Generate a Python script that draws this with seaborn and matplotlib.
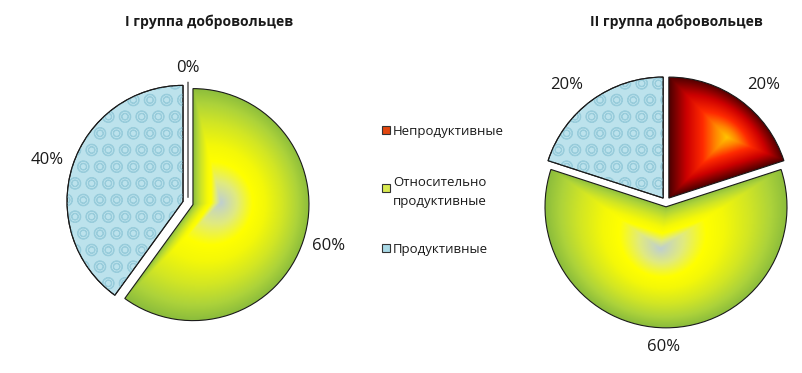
import numpy as np
import matplotlib
matplotlib.use('Agg')
import matplotlib.pyplot as plt
import seaborn as sns
from matplotlib.colors import LinearSegmentedColormap
from matplotlib.patches import Rectangle, Wedge

# data
categories = ['Непродуктивные', 'Относительно\nпродуктивные', 'Продуктивные']
group1 = [0, 60, 40]
group2 = [20, 60, 20]
titles = ['I группа добровольцев', 'II группа добровольцев']

sns.set_theme(style='white')
plt.rcParams['font.family'] = ['Open Sans', 'DejaVu Sans']
plt.rcParams['hatch.linewidth'] = 0.7

W, H = 803, 373
fig = plt.figure(figsize=(W / 100, H / 100), dpi=100)
HALF = 1.4


def px_axes(cx, cy, r):
    # axes where one data unit = r pixels, centred on (cx, cy) counted from top-left
    s = HALF * r
    return fig.add_axes([(cx - s) / W, 1 - (cy + s) / H, 2 * s / W, 2 * s / H])


greens = LinearSegmentedColormap.from_list(
    'g', [(0, '#bfcfcf'), (0.18, '#e0ea80'), (0.36, '#ffff00'), (0.5, '#f4f808'),
          (0.7, '#d2e624'), (0.87, '#add33a'), (1, '#8cbd3c')])
reds = LinearSegmentedColormap.from_list(
    'r', [(0, '#ffc400'), (0.2, '#ff8400'), (0.42, '#ff2a00'), (0.7, '#cc0000'), (1, '#4e0000')])

grid = np.linspace(-HALF, HALF, 700)
X, Y = np.meshgrid(grid, grid)


def gauge(w, c):
    # path-gradient style "distance": 0 at c, 1 on the wedge outline
    o = np.array(w.center)
    R = w.r
    vx, vy = X - c[0], Y - c[1]
    ax_, ay_ = c[0] - o[0], c[1] - o[1]
    vv = vx ** 2 + vy ** 2 + 1e-12
    av = ax_ * vx + ay_ * vy
    u = (-av + np.sqrt(np.maximum(av ** 2 - vv * (ax_ ** 2 + ay_ ** 2 - R ** 2), 0))) / vv
    s = 1 / u
    t1, t2 = np.radians(w.theta1), np.radians(w.theta2)
    span = (w.theta2 - w.theta1) % 360
    # outward normals of the two straight edges
    n1 = np.array([np.sin(t1), -np.cos(t1)])
    n2 = np.array([-np.sin(t2), np.cos(t2)])
    if span <= 180:
        for n in (n1, n2):
            s = np.maximum(s, (n[0] * vx + n[1] * vy) / (n @ (o - c)))
    else:
        # removed sector K = points outside both edges
        enter, exit_ = [], []
        for n in (-n1, -n2):
            a = n @ (np.array(c) - o)
            b = n[0] * vx + n[1] * vy
            with np.errstate(divide='ignore', invalid='ignore'):
                lam = -a / b
            if a <= 0:
                enter.append(np.zeros_like(b))
                exit_.append(np.where(b > 0, lam, np.inf))
            else:
                enter.append(np.where(b < 0, lam, np.inf))
                exit_.append(np.full_like(b, np.inf))
        le = np.maximum(enter[0], enter[1])
        lx = np.minimum(exit_[0], exit_[1])
        lk = np.where(le <= lx, le, np.inf)
        s = np.maximum(s, 1 / lk)
    return np.clip(s, 0, 1)


def fill_gradient(ax, wedge, cmap, c):
    im = ax.imshow(gauge(wedge, c), cmap=cmap, vmin=0, vmax=1,
                   extent=(-HALF, HALF, -HALF, HALF), origin='lower',
                   zorder=0.5, interpolation='bilinear')
    im.set_clip_path(wedge)
    wedge.set_facecolor('none')


def water(ax, wedge):
    wedge.set_facecolor('#bce2ec')
    tex = Wedge(wedge.center, wedge.r, wedge.theta1, wedge.theta2,
                facecolor='none', edgecolor='#98ccdb', lw=0, hatch='oO', zorder=1.2)
    ax.add_patch(tex)
    ax.add_patch(Wedge(wedge.center, wedge.r, wedge.theta1, wedge.theta2,
                       facecolor='none', edgecolor='#1a1a1a', lw=0.8, zorder=1.4))


def draw_pie(ax, vals, expl, red_c, green_c, label_xy):
    wedges, _, autotexts = ax.pie(
        vals, explode=[expl] * len(vals), startangle=90, counterclock=False,
        autopct='%d%%', pctdistance=1.2, colors=['#d02000', '#c8e22a', '#bce2ec'],
        wedgeprops=dict(edgecolor='#1a1a1a', linewidth=0.8),
        textprops=dict(fontsize=12, color='#1a1a1a'))
    for w in wedges:
        w.set_zorder(1)
    for t, xy in zip(autotexts, label_xy):
        t.set_position(xy)
    if vals[0] > 0:
        fill_gradient(ax, wedges[0], reds, red_c)
    fill_gradient(ax, wedges[1], greens, green_c)
    water(ax, wedges[2])
    ax.set_xlim(-HALF, HALF)
    ax.set_ylim(-HALF, HALF)
    ax.set_aspect('equal')
    ax.axis('off')


ax1 = px_axes(188, 203, 116)
draw_pie(ax1, group1, 0.045, (0, 0), (0.28, 0.0),
         [(0.0, 1.16), (1.21, -0.37), (-1.21, 0.37)])

ax2 = px_axes(666, 202, 121)
draw_pie(ax2, group2, 0.04, (0.5, 0.53), (-0.05, -0.39),
         [(0.81, 0.97), (-0.02, -1.2), (-0.82, 0.97)])

fig.text(209 / W, 1 - 22 / H, titles[0], ha='center', va='center',
         fontsize=10, fontweight='bold', color='#1a1a1a')
fig.text(676 / W, 1 - 22 / H, titles[1], ha='center', va='center',
         fontsize=10, fontweight='bold', color='#1a1a1a')

# legend
leg_colors = ['#e2470f', '#d9ea50', '#a9d9e6']
leg_y = [130, 188, 248]
for lab, col, y in zip(categories, leg_colors, leg_y):
    fig.add_artist(Rectangle((382 / W, 1 - (y + 4) / H), 8 / W, 8 / H,
                             facecolor=col, edgecolor='#333333', lw=0.8,
                             transform=fig.transFigure))
    fig.text(393 / W, 1 - y / H, lab, ha='left', va='center_baseline',
             fontsize=9.5, color='#1a1a1a', linespacing=1.5)

fig.savefig('out.png', dpi=100)
